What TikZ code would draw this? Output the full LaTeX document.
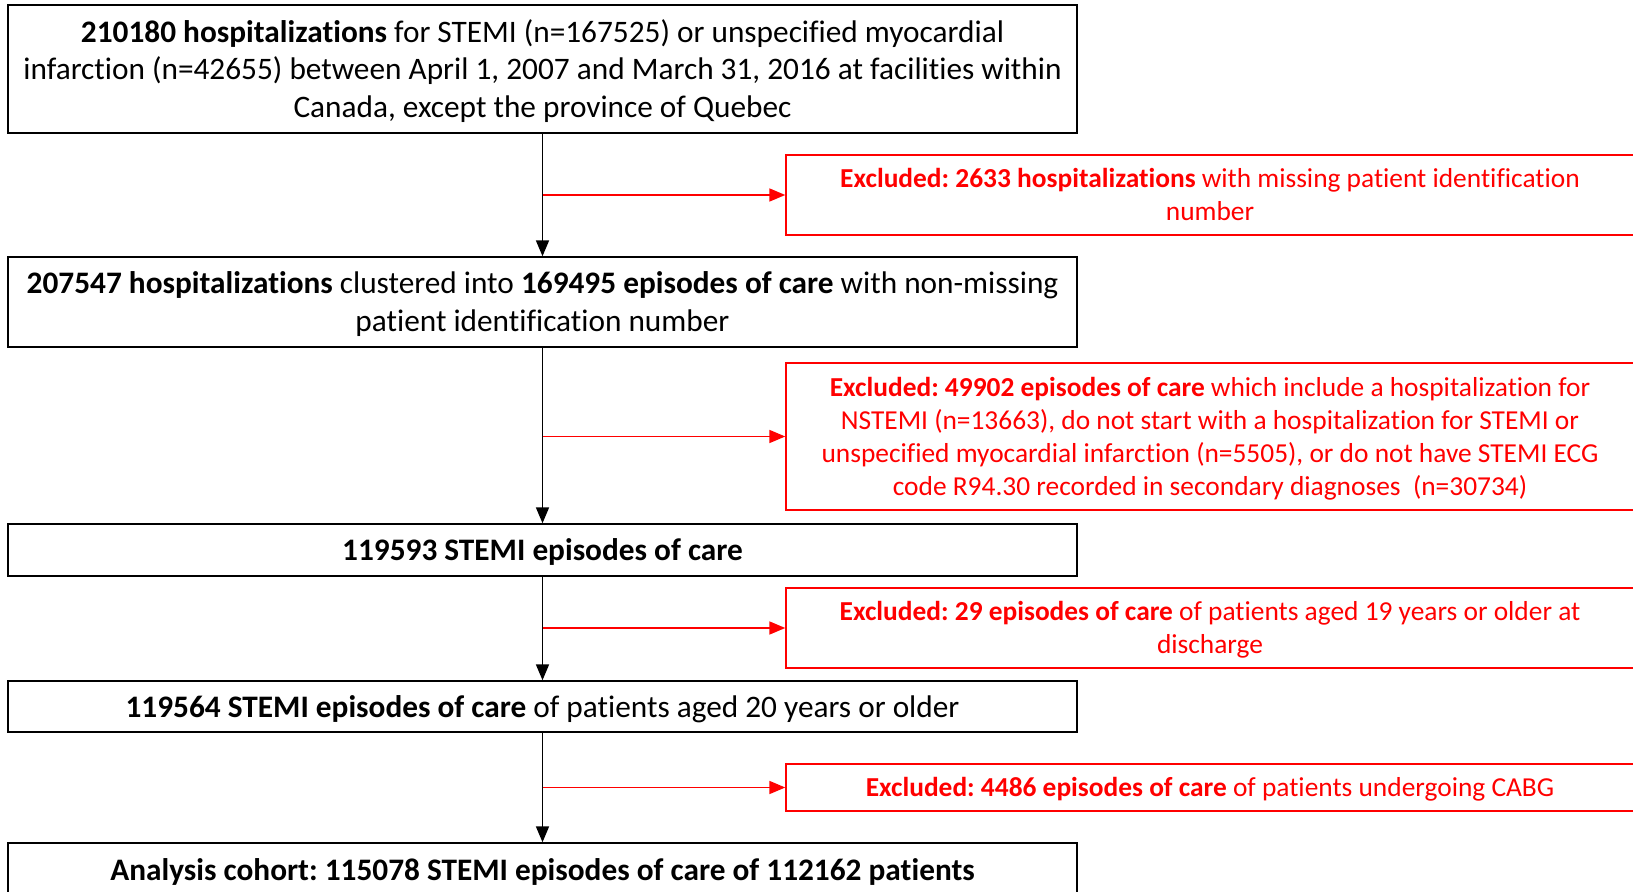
\documentclass[tikz,border=0pt]{standalone}
\usepackage{fontspec}
\setmainfont{Carlito}[Ligatures=CommonOff]
\usetikzlibrary{arrows, positioning}

\newcommand{\stepstrut}{\rule[-3.3pt]{0pt}{17.3pt}}
\newcommand{\exstrut}{\rule[-3.3pt]{0pt}{15.8pt}}

\begin{document}
\begin{tikzpicture}[x=0.5pt, y=-0.5pt,
    stepbox/.style={rectangle, draw=black, thick, text width=534.5pt, inner sep=0pt, align=flush center, font=\fontsize{15.65}{18.75}\selectfont\frenchspacing, execute at begin node=\stepstrut, execute at end node=\stepstrut},
    exbox/.style={rectangle, draw=red, thick, text=red, text width=424pt, inner sep=0pt, align=flush center, font=\fontsize{13.7}{16.5}\selectfont\frenchspacing, execute at begin node=\exstrut, execute at end node=\exstrut},
    flow/.style={-triangle 45, thick, black},
    exflow/.style={-triangle 45, thick, red}]
    \useasboundingbox (0,0) rectangle (1633,892);
    \clip (0,0) rectangle (1633,892);

    % Main path
    \node (all) [stepbox, minimum height=64pt] at (542.5,69) {\textbf{210180 hospitalizations} for STEMI (n=167525) or unspecified myocardial\\infarction (n=42655) between April 1, 2007 and March 31, 2016 at facilities within\\Canada, except the province of Quebec};
    \node (nonmiss) [stepbox, minimum height=45pt] at (542.5,302) {\textbf{207547 hospitalizations} clustered into \textbf{169495 episodes of care} with non-missing\\patient identification number};
    \node (stemi) [stepbox, minimum height=26pt] at (542.5,550) {\textbf{119593 STEMI episodes of care}};
    \node (adult) [stepbox, minimum height=25.5pt] at (542.5,706.5) {\textbf{119564 STEMI episodes of care} of patients aged 20 years or older};
    \node (cohort) [stepbox, minimum height=27pt] at (542.5,870) {\textbf{Analysis cohort: 115078 STEMI episodes of care of 112162 patients}};

    % Exclusions
    \node (exmiss) [exbox, minimum height=40pt] at (1210,195) {\textbf{Excluded: 2633 hospitalizations} with missing patient identification\\number};
    \node (exnstemi) [exbox, minimum height=73.5pt] at (1210,436.5) {\textbf{Excluded: 49902 episodes of care} which include a hospitalization for\\NSTEMI (n=13663), do not start with a hospitalization for STEMI or\\unspecified myocardial infarction (n=5505), or do not have STEMI ECG\\code R94.30 recorded in secondary diagnoses~ (n=30734)};
    \node (exage) [exbox, minimum height=40pt] at (1210,628) {\textbf{Excluded: 29 episodes of care} of patients aged 19 years or older at\\discharge};
    \node (excabg) [exbox, minimum height=23.5pt] at (1210,787.5) {\textbf{Excluded: 4486 episodes of care} of patients undergoing CABG};

    % Arrows
    \draw[flow] (all) -- (nonmiss);
    \draw[flow] (nonmiss) -- (stemi);
    \draw[flow] (stemi) -- (adult);
    \draw[flow] (adult) -- (cohort);
    \draw[exflow] (all.south |- exmiss.west) -- (exmiss.west);
    \draw[exflow] (all.south |- exnstemi.west) -- (exnstemi.west);
    \draw[exflow] (all.south |- exage.west) -- (exage.west);
    \draw[exflow] (all.south |- excabg.west) -- (excabg.west);
\end{tikzpicture}
\end{document}
